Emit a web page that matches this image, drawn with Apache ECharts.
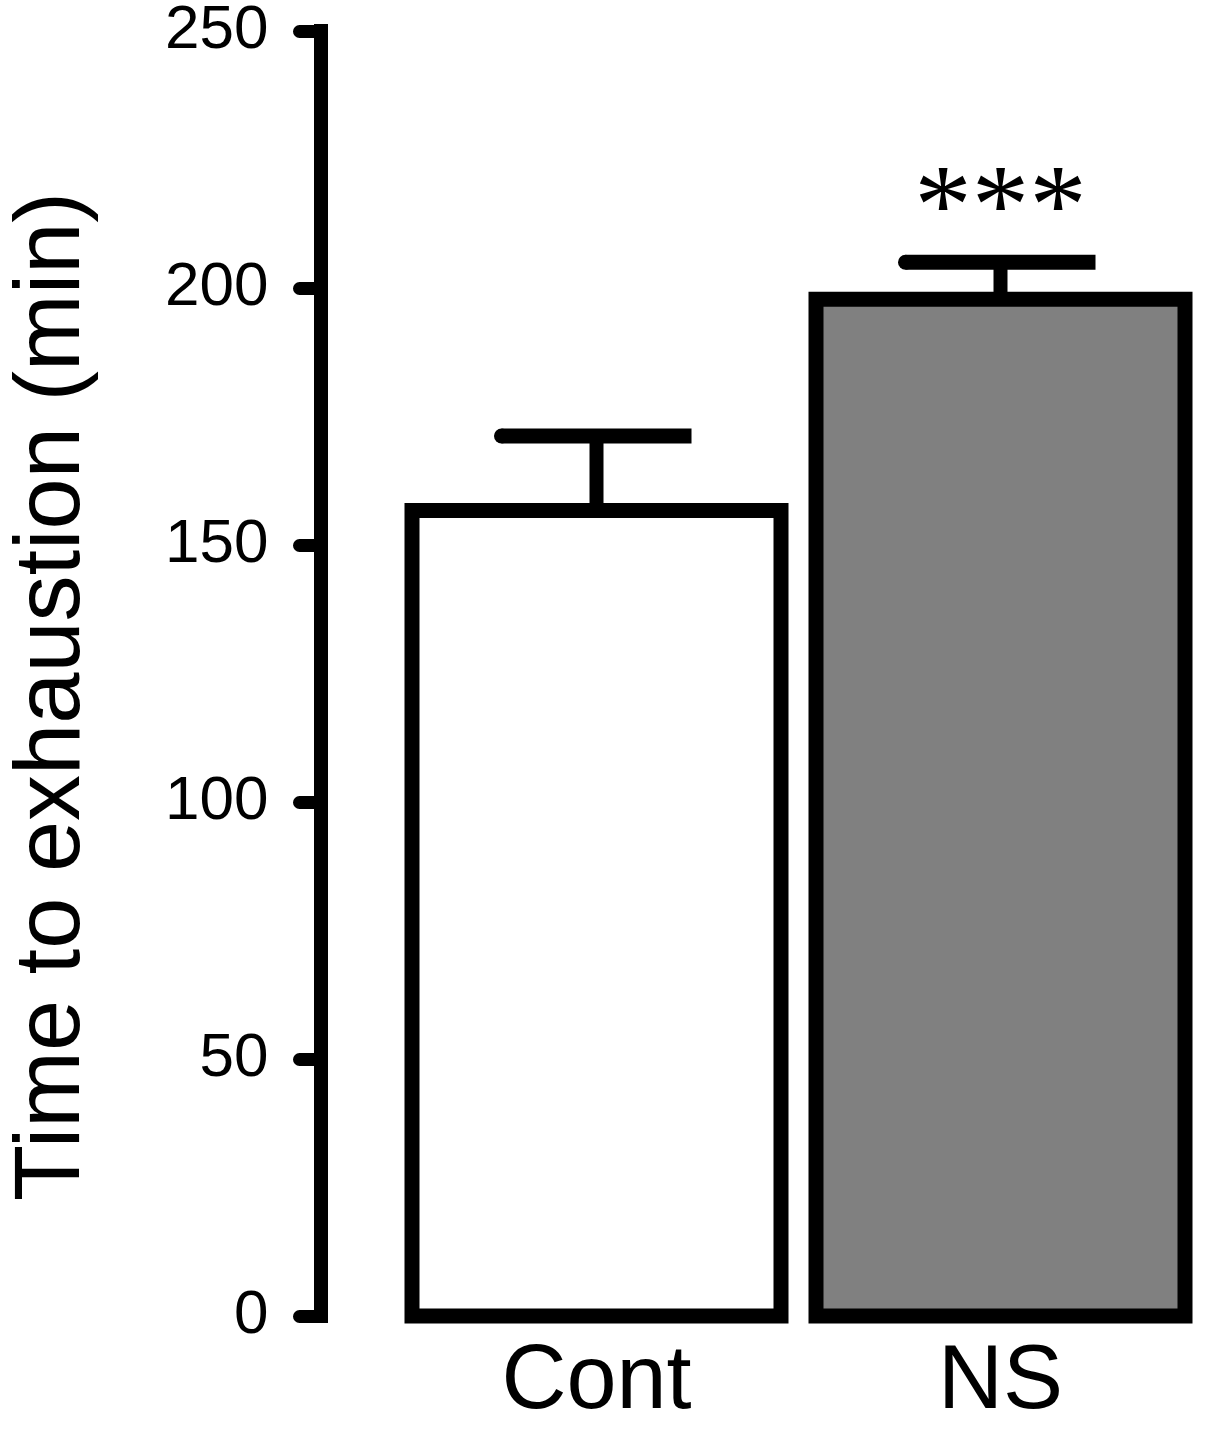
<!DOCTYPE html>
<html>
<head>
<meta charset="utf-8">
<style>
  html, body { margin: 0; padding: 0; background: #fff; }
  #chart { width: 1205px; height: 1429px; }
</style>
<script src="https://cdn.jsdelivr.net/npm/echarts@6/dist/echarts.min.js"></script>
</head>
<body>
<div id="chart"></div>
<script>
const categories = ['Cont', 'NS'];
const means = [156.7, 197.8];
const errors = [14.5, 7.2];
const significance = ['', '***'];
const barColors = ['#ffffff', '#808080'];
const yTicks = [0, 50, 100, 150, 200, 250];
const yAxisTitle = 'Time to exhaustion (min)';

const chart = echarts.init(document.getElementById('chart'), null, { renderer: 'canvas' });

const barData = means.map((v, i) => [i, v]);
const errData = means.map((v, i) => [i, v, errors[i]]);

const BAR_W = 369;
const BORDER = 15;

chart.setOption({
  animation: false,
  backgroundColor: '#ffffff',
  grid: { left: 394.5, right: 2.5, top: 31, bottom: 113, containLabel: false, outerBoundsMode: 'none' },
  xAxis: {
    type: 'category',
    data: categories,
    boundaryGap: true,
    axisLine: { show: false },
    axisTick: { show: false },
    axisLabel: {
      margin: 22,
      fontFamily: 'Liberation Sans',
      fontSize: 90,
      color: '#000'
    },
    splitLine: { show: false }
  },
  yAxis: {
    type: 'value',
    min: yTicks[0],
    max: yTicks[yTicks.length - 1],
    interval: yTicks[1] - yTicks[0],
    offset: 74,
    name: yAxisTitle,
    nameLocation: 'middle',
    nameRotate: 90,
    nameGap: 221,
    nameTextStyle: { fontFamily: 'Liberation Sans', fontSize: 92, color: '#000', padding: [0, 46, 0, 0] },
    axisLine: { show: true, lineStyle: { color: '#000', width: 14, cap: 'square' } },
    axisTick: { show: true, length: 21, lineStyle: { color: '#000', width: 13, cap: 'round' } },
    axisLabel: {
      margin: 52,
      fontFamily: 'Liberation Sans',
      fontSize: 62,
      color: '#000'
    },
    splitLine: { show: false }
  },
  series: [
    {
      type: 'custom',
      data: barData,
      z: 2,
      renderItem: function (params, api) {
        const i = api.value(0);
        const v = api.value(1);
        const p0 = api.coord([i, 0]);
        const p1 = api.coord([i, v]);
        return {
          type: 'rect',
          shape: { x: p0[0] - BAR_W / 2, y: p1[1], width: BAR_W, height: p0[1] - p1[1] },
          style: { fill: barColors[params.dataIndex], stroke: '#000', lineWidth: BORDER }
        };
      }
    },
    {
      type: 'custom',
      data: errData,
      z: 3,
      renderItem: function (params, api) {
        const i = api.value(0);
        const v = api.value(1);
        const e = api.value(2);
        const sig = significance[params.dataIndex];
        const base = api.coord([i, v]);
        const top = api.coord([i, v + e]);
        const half = 95;
        const children = [
          { type: 'line', shape: { x1: base[0], y1: base[1], x2: top[0], y2: top[1] },
            style: { stroke: '#000', lineWidth: 14 } },
          { type: 'line', shape: { x1: top[0] - half, y1: top[1], x2: top[0] + half, y2: top[1] },
            style: { stroke: '#000', lineWidth: 15 } },
          { type: 'circle', shape: { cx: top[0] - half, cy: top[1], r: 7.5 },
            style: { fill: '#000' } }
        ];
        if (sig) {
          children.push({
            type: 'text',
            x: top[0], y: top[1] - 50,
            style: {
              text: sig, fill: '#000',
              font: '115px "Liberation Serif"',
              textAlign: 'center', textVerticalAlign: 'middle'
            }
          });
        }
        return { type: 'group', children: children };
      }
    }
  ]
});
</script>
</body>
</html>
